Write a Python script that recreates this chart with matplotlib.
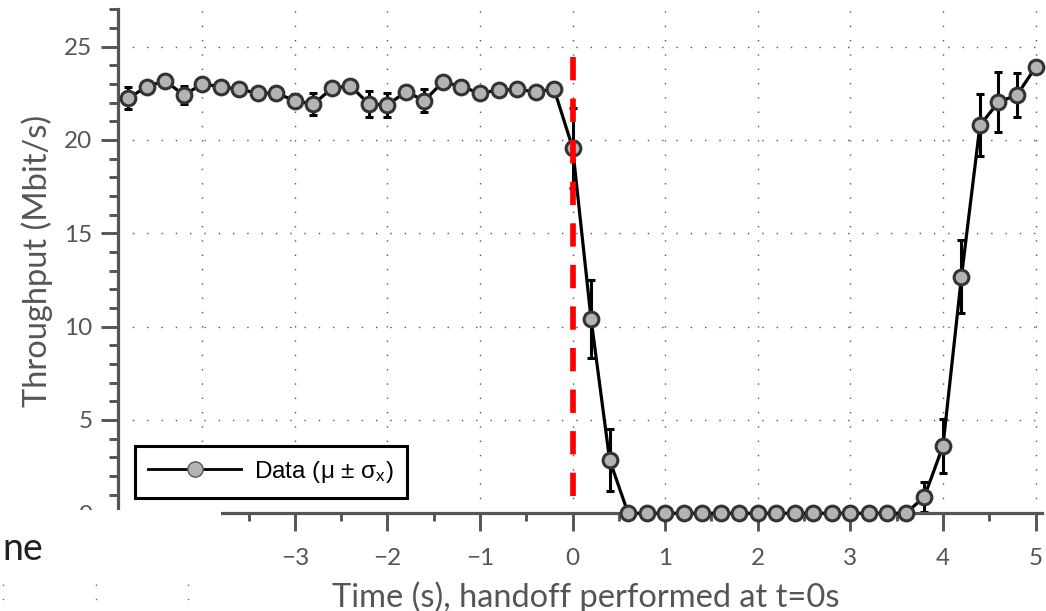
import matplotlib.pyplot as plt
from matplotlib.lines import Line2D
from matplotlib.patches import Rectangle
from matplotlib.ticker import FixedLocator, MultipleLocator

plt.rcParams['font.family'] = ['Lato', 'DejaVu Sans']
plt.rcParams['mathtext.default'] = 'regular'

# samples every 0.2 s around the handoff
time_s = [-4.8, -4.6, -4.4, -4.2, -4.0, -3.8, -3.6, -3.4, -3.2, -3.0,
          -2.8, -2.6, -2.4, -2.2, -2.0, -1.8, -1.6, -1.4, -1.2, -1.0,
          -0.8, -0.6, -0.4, -0.2, 0.0, 0.2, 0.4, 0.6, 0.8, 1.0,
          1.2, 1.4, 1.6, 1.8, 2.0, 2.2, 2.4, 2.6, 2.8, 3.0,
          3.2, 3.4, 3.6, 3.8, 4.0, 4.2, 4.4, 4.6, 4.8, 5.0]

# mean throughput (Mbit/s)
mean_tp = [22.23, 22.85, 23.17, 22.40, 22.99, 22.85, 22.71, 22.50, 22.50, 22.10,
           21.91, 22.76, 22.90, 21.92, 21.87, 22.58, 22.10, 23.12, 22.85, 22.50,
           22.67, 22.71, 22.58, 22.72, 19.58, 10.39, 2.86, 0, 0, 0,
           0, 0, 0, 0, 0, 0, 0, 0, 0, 0,
           0, 0, 0, 0.89, 3.60, 12.67, 20.78, 22.03, 22.40, 23.89]

# standard deviation
std_tp = [0.60, 0.30, 0.25, 0.50, 0.30, 0.25, 0.30, 0.25, 0.30, 0.35,
          0.60, 0.30, 0.25, 0.68, 0.63, 0.30, 0.62, 0.25, 0.30, 0.25,
          0.30, 0.25, 0.30, 0.25, 2.14, 2.08, 1.68, 0, 0, 0,
          0, 0, 0, 0, 0, 0, 0, 0, 0, 0,
          0, 0, 0, 0.80, 1.43, 1.96, 1.66, 1.63, 1.20, 0.30]

x_major = [-3, -2, -1, 0, 1, 2, 3, 4, 5]
x_minor = [-3.5, -2.5, -1.5, -0.5, 0.5, 1.5, 2.5, 3.5, 4.5]
x_grid = [-4, -3, -2, -1, 0, 1, 2, 3, 4, 5]
y_grid = [5, 10, 15, 20, 25]

W, H = 1046, 611
fig = plt.figure(figsize=(W / 100, H / 100), dpi=100)
ax = fig.add_axes([118 / W, (H - 513.3) / H, (1042 - 118) / W, (513.3 - 9.2) / H])
ax.set_xlim(-4.91, 5.07)
ax.set_ylim(0, 27)

dots = (0, (1, 9.3))
for xv in x_grid:
    ax.axvline(xv, color='#555555', lw=1, ls=dots, zorder=1)
for yv in y_grid:
    ax.axhline(yv, color='#555555', lw=1, ls=dots, zorder=1)

ax.errorbar(time_s, mean_tp, yerr=std_tp, fmt='none', ecolor='black',
            elinewidth=2.2, capsize=2.8, capthick=2.2, zorder=2, clip_on=False)
ax.plot(time_s, mean_tp, '-', color='black', lw=2.3, zorder=2.6, clip_on=False)
ax.plot(time_s, mean_tp, 'o', ms=10.6, mfc='#b3b3b3', mec='#333333', mew=2.2,
        zorder=3, clip_on=False)

# handoff marker
ax.plot([0, 0], [24.44, 0.8], color='red', lw=4.1, dashes=(4.1, 3.2),
        dash_capstyle='butt', zorder=4)

for s in ['top', 'right']:
    ax.spines[s].set_visible(False)
for s in ['left', 'bottom']:
    ax.spines[s].set_color('#555555')
    ax.spines[s].set_linewidth(2.3)
ax.spines['bottom'].set_bounds(-3.79, 5.07)

ax.xaxis.set_major_locator(FixedLocator(x_major))
ax.xaxis.set_minor_locator(FixedLocator(x_minor))
ax.yaxis.set_major_locator(MultipleLocator(5))
ax.yaxis.set_minor_locator(MultipleLocator(1))
ax.tick_params(axis='both', which='both', color='#555555', width=2.1,
               labelcolor='#555555', labelsize=17.5)
ax.tick_params(axis='y', which='major', length=12.5, pad=6)
ax.tick_params(axis='y', which='minor', length=6.5)
ax.tick_params(axis='x', which='major', length=13, pad=12)
ax.tick_params(axis='x', which='minor', length=6)

ax.set_xlabel('Time (s), handoff performed at t=0s', fontsize=23.5, color='#555555')
ax.xaxis.set_label_coords(0.5065, (513.3 - 607) / 504.1)
ax.xaxis.label.set_verticalalignment('baseline')
ax.set_ylabel('Throughput (Mbit/s)', fontsize=23.5, color='#555555')
ax.yaxis.set_label_coords((37 - 118) / 924, 0.5)
ax.yaxis.label.set_verticalalignment('center')

proxy = Line2D([], [], color='black', lw=2, marker='o', ms=11,
               mfc='#b3b3b3', mec='#555555', mew=1.0)
leg = ax.legend([proxy], ['Data (μ ± $\\sigma_x$)'], loc='lower left',
                bbox_to_anchor=(0.0184, 0.0298), borderaxespad=0,
                fancybox=False, edgecolor='black', framealpha=1,
                prop={'family': ['Liberation Sans', 'DejaVu Sans'], 'size': 17.5},
                handlelength=3.8, handletextpad=0.55, borderpad=0.55)
leg.get_frame().set_linewidth(2.2)

# strip covering the bottom-left corner, with the piece of the next figure
fig.add_artist(Rectangle((0, 0), 221 / W, (H - 510) / H, transform=fig.transFigure,
                         facecolor='white', edgecolor='none', zorder=10))
fig.text(0.002, (H - 560) / H, 'ne', fontsize=27, color='#222222', va='baseline',
         ha='left', zorder=11)
for xp in [3.3, 95.7, 188.3]:
    fig.add_artist(Line2D([xp / W, xp / W], [(H - 584) / H, 0], transform=fig.transFigure,
                          color='#666666', lw=1, ls=dots, zorder=11))

fig.savefig('out.png', dpi=100)
